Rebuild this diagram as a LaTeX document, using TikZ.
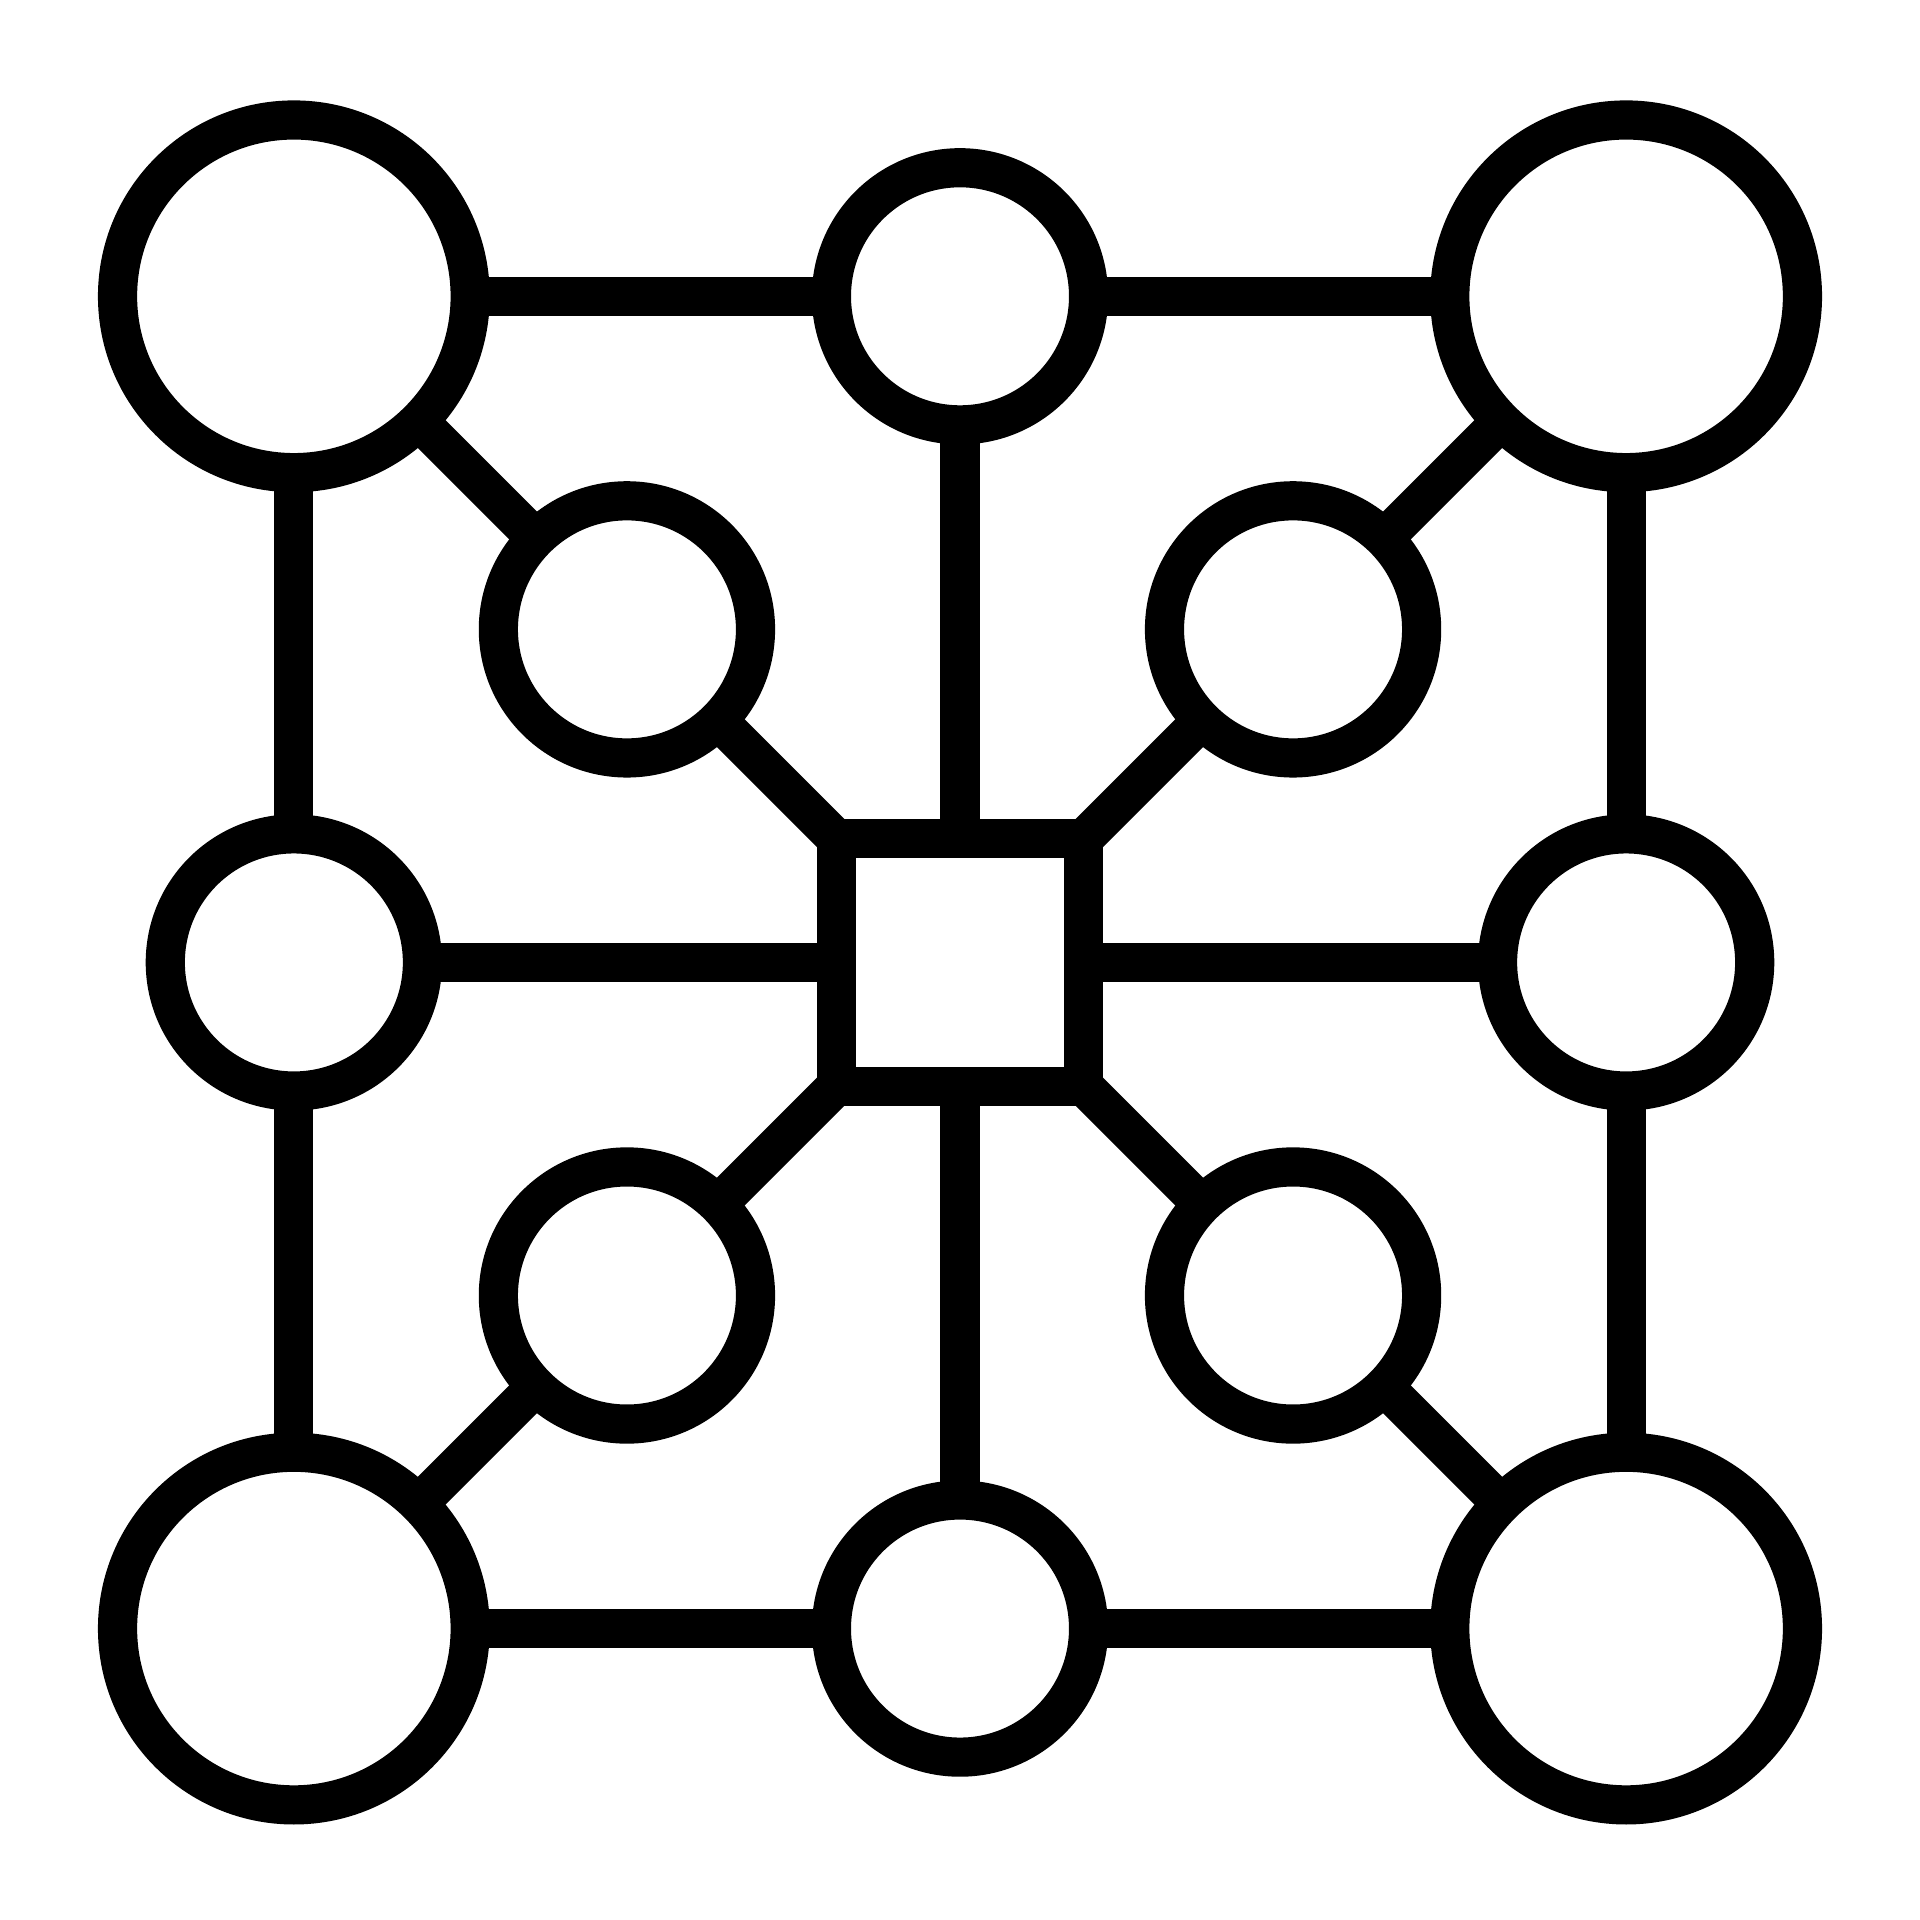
\documentclass[tikz,border=0pt]{standalone}

\begin{document}
\begin{tikzpicture}[line width=0.32cm, every node/.style={draw, inner sep=0 pt, outer sep=0 pt,
minimum size=2.1cm, circle}, big/.style={minimum size=2.88cm}]
\useasboundingbox (-7.84,-7.82) rectangle (7.84,7.86);

\path
(0,0) node[rectangle, minimum size=2.02cm] (s0) {}
(-5.44,5.44) node[big] (b1) {}
-- ++(5.44,0) node (m1) {}
-- ++(5.44,0) node[big] (b2) {}
-- ++(0,-5.44) node (m2) {}
-- ++(0,-5.44) node[big] (b4) {}
-- ++(-5.44,0) node (m3) {}
-- ++(-5.44,0) node[big] (b3) {}
-- ++(0,5.44) node (m4) {}
(-2.72,2.72) node (d1) {}
(2.72,2.72) node (d2) {}
(2.72,-2.72) node (d4) {}
(-2.72,-2.72) node (d3) {}
;

% outer frame
\draw (b1) -- (m1) ;
\draw (m1) -- (b2) ;
\draw (b2) -- (m2) ;
\draw (m2) -- (b4) ;
\draw (b4) -- (m3) ;
\draw (m3) -- (b3) ;
\draw (b3) -- (m4) ;
\draw (m4) -- (b1) ;

% spokes to the square
\draw (m1) -- (s0) ;
\draw (m2) -- (s0) ;
\draw (m3) -- (s0) ;
\draw (m4) -- (s0) ;

% diagonals
\draw (b1) -- (d1) ;
\draw (d1) -- (s0.north west) ;
\draw (b2) -- (d2) ;
\draw (d2) -- (s0.north east) ;
\draw (b3) -- (d3) ;
\draw (d3) -- (s0.south west) ;
\draw (b4) -- (d4) ;
\draw (d4) -- (s0.south east) ;

\end{tikzpicture}
\end{document}
